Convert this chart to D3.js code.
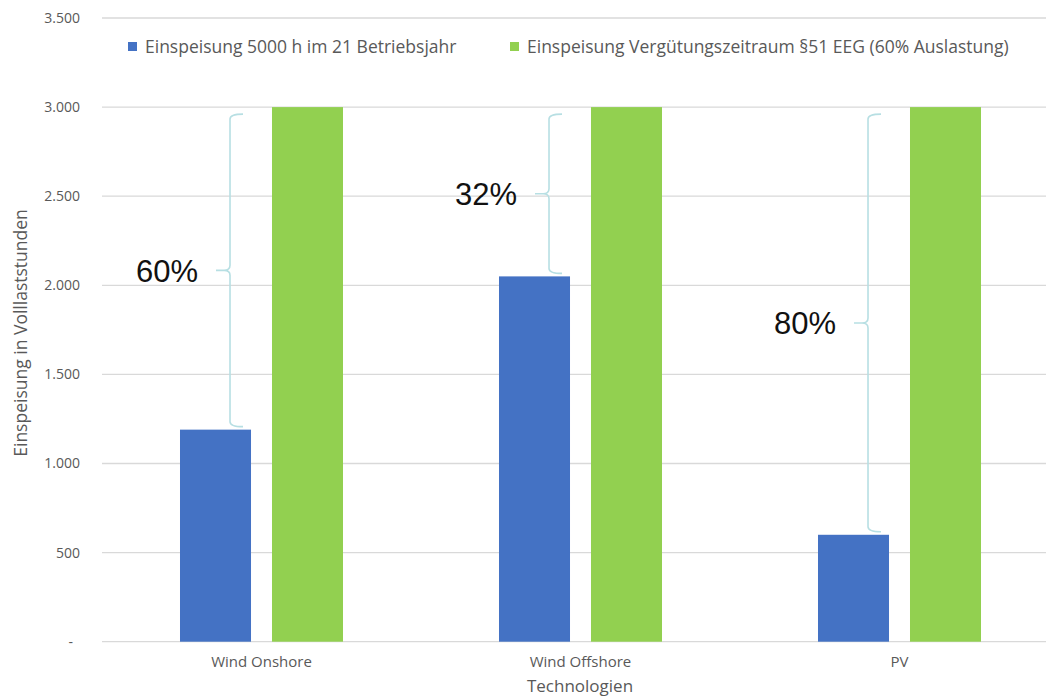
<!DOCTYPE html>
<html>
<head>
<meta charset="utf-8">
<script src="https://cdn.jsdelivr.net/npm/d3@7"></script>
<style>
  body { margin: 0; background: #fff; }
  svg { display: block; font-family: "Open Sans", sans-serif; }
</style>
</head>
<body>
<svg id="svg" width="1046" height="697"></svg>
<script>
const categories = ["Wind Onshore", "Wind Offshore", "PV"];
const seriesNames = [
  "Einspeisung 5000 h im 21 Betriebsjahr",
  "Einspeisung Vergütungszeitraum §51 EEG (60% Auslastung)"
];
const blueValues = [1190, 2050, 600];
const greenValues = [3000, 3000, 3000];
const shareLabels = ["60%", "32%", "80%"];
const yTicks = [0, 500, 1000, 1500, 2000, 2500, 3000, 3500];

const BLUE = "#4472c4";
const GREEN = "#92d050";
const TEXT = "#595959";

const svg = d3.select("#svg");

const plotLeft = 102, plotRight = 1059, plotTop = 18, plotBottom = 641.7;

const x = d3.scaleBand()
  .domain(categories)
  .range([plotLeft, plotRight])
  .paddingInner(0.489)
  .paddingOuter(0.2445);

const xs = d3.scaleBand()
  .domain([0, 1])
  .range([0, x.bandwidth()])
  .paddingInner(0.228);

const y = d3.scaleLinear().domain([0, 3500]).range([plotBottom, plotTop]);

// gridlines
svg.append("g")
  .selectAll("line")
  .data(yTicks)
  .join("line")
  .attr("x1", plotLeft)
  .attr("x2", plotRight)
  .attr("y1", d => y(d))
  .attr("y2", d => y(d))
  .attr("stroke", "#d9d9d9")
  .attr("stroke-width", 1.3);

// y axis labels
const fmt = d => d === 0 ? "-" : d3.format(",")(d).replace(",", ".");
svg.append("g")
  .selectAll("text")
  .data(yTicks)
  .join("text")
  .attr("x", d => d === 0 ? 73 : 80)
  .attr("y", d => y(d))
  .attr("dy", "0.35em")
  .attr("text-anchor", "end")
  .attr("fill", TEXT)
  .attr("font-size", 14)
  .text(fmt);

const rows = categories.map((c, i) => ({ cat: c, blue: blueValues[i], green: greenValues[i], label: shareLabels[i] }));

// bars
[
  { key: "blue", s: 0, color: BLUE },
  { key: "green", s: 1, color: GREEN }
].forEach(stat => {
  svg.append("g")
    .selectAll("rect")
    .data(rows)
    .join("rect")
    .attr("x", d => x(d.cat) + xs(stat.s))
    .attr("y", d => y(d[stat.key]))
    .attr("width", xs.bandwidth())
    .attr("height", d => y(0) - y(d[stat.key]))
    .attr("fill", stat.color);
});

// braces
const brace = (d) => {
  const xr = x(d.cat) + xs(0) + xs.bandwidth();
  const xv = xr - 21, xe = xr - 8, xt = xr - 35;
  const y1 = y(d.green) + 7, y2 = y(d.blue) - 3;
  const ym = (y1 + y2) / 2;
  const r = 5;
  return `M${xe},${y1} Q${xv},${y1} ${xv},${y1 + r} L${xv},${ym - r} Q${xv},${ym} ${xv - 6},${ym} L${xt},${ym}` +
    ` M${xv - 6},${ym} Q${xv},${ym} ${xv},${ym + r} L${xv},${y2 - r} Q${xv},${y2} ${xe},${y2}`;
};

svg.append("g")
  .selectAll("path")
  .data(rows)
  .join("path")
  .attr("d", brace)
  .attr("fill", "none")
  .attr("stroke", "#b7dfe3")
  .attr("stroke-width", 1.6);

svg.append("g")
  .selectAll("text")
  .data(rows)
  .join("text")
  .attr("x", d => x(d.cat) + xs(0) + xs.bandwidth() - 35 - 18)
  .attr("y", d => (y(d.green) + 7 + y(d.blue) - 3) / 2)
  .attr("dy", "0.36em")
  .attr("text-anchor", "end")
  .attr("font-family", "Liberation Sans, Arial, sans-serif")
  .attr("font-size", 31)
  .attr("fill", "#111")
  .text(d => d.label);

// x axis labels
svg.append("g")
  .selectAll("text")
  .data(categories)
  .join("text")
  .attr("x", d => x(d) + x.bandwidth() / 2)
  .attr("y", 662)
  .attr("dy", "0.35em")
  .attr("text-anchor", "middle")
  .attr("fill", TEXT)
  .attr("font-size", 15)
  .text(d => d);

svg.append("text")
  .attr("x", 580)
  .attr("y", 686)
  .attr("dy", "0.35em")
  .attr("text-anchor", "middle")
  .attr("fill", TEXT)
  .attr("font-size", 17)
  .text("Technologien");

svg.append("text")
  .attr("transform", "translate(21,333) rotate(-90)")
  .attr("dy", "0.35em")
  .attr("text-anchor", "middle")
  .attr("fill", TEXT)
  .attr("font-size", 17.5)
  .text("Einspeisung in Volllaststunden");

// legend
const legend = svg.append("g")
  .selectAll("g")
  .data(seriesNames)
  .join("g")
  .attr("transform", (d, i) => `translate(${i === 0 ? 128 : 510},47)`);
legend.append("rect")
  .attr("x", 0)
  .attr("y", -5)
  .attr("width", 9)
  .attr("height", 9)
  .attr("fill", (d, i) => i === 0 ? BLUE : GREEN);
legend.append("text")
  .attr("x", 17)
  .attr("y", 0)
  .attr("dy", "0.35em")
  .attr("fill", TEXT)
  .attr("font-size", 17.5)
  .text(d => d);
</script>
</body>
</html>
